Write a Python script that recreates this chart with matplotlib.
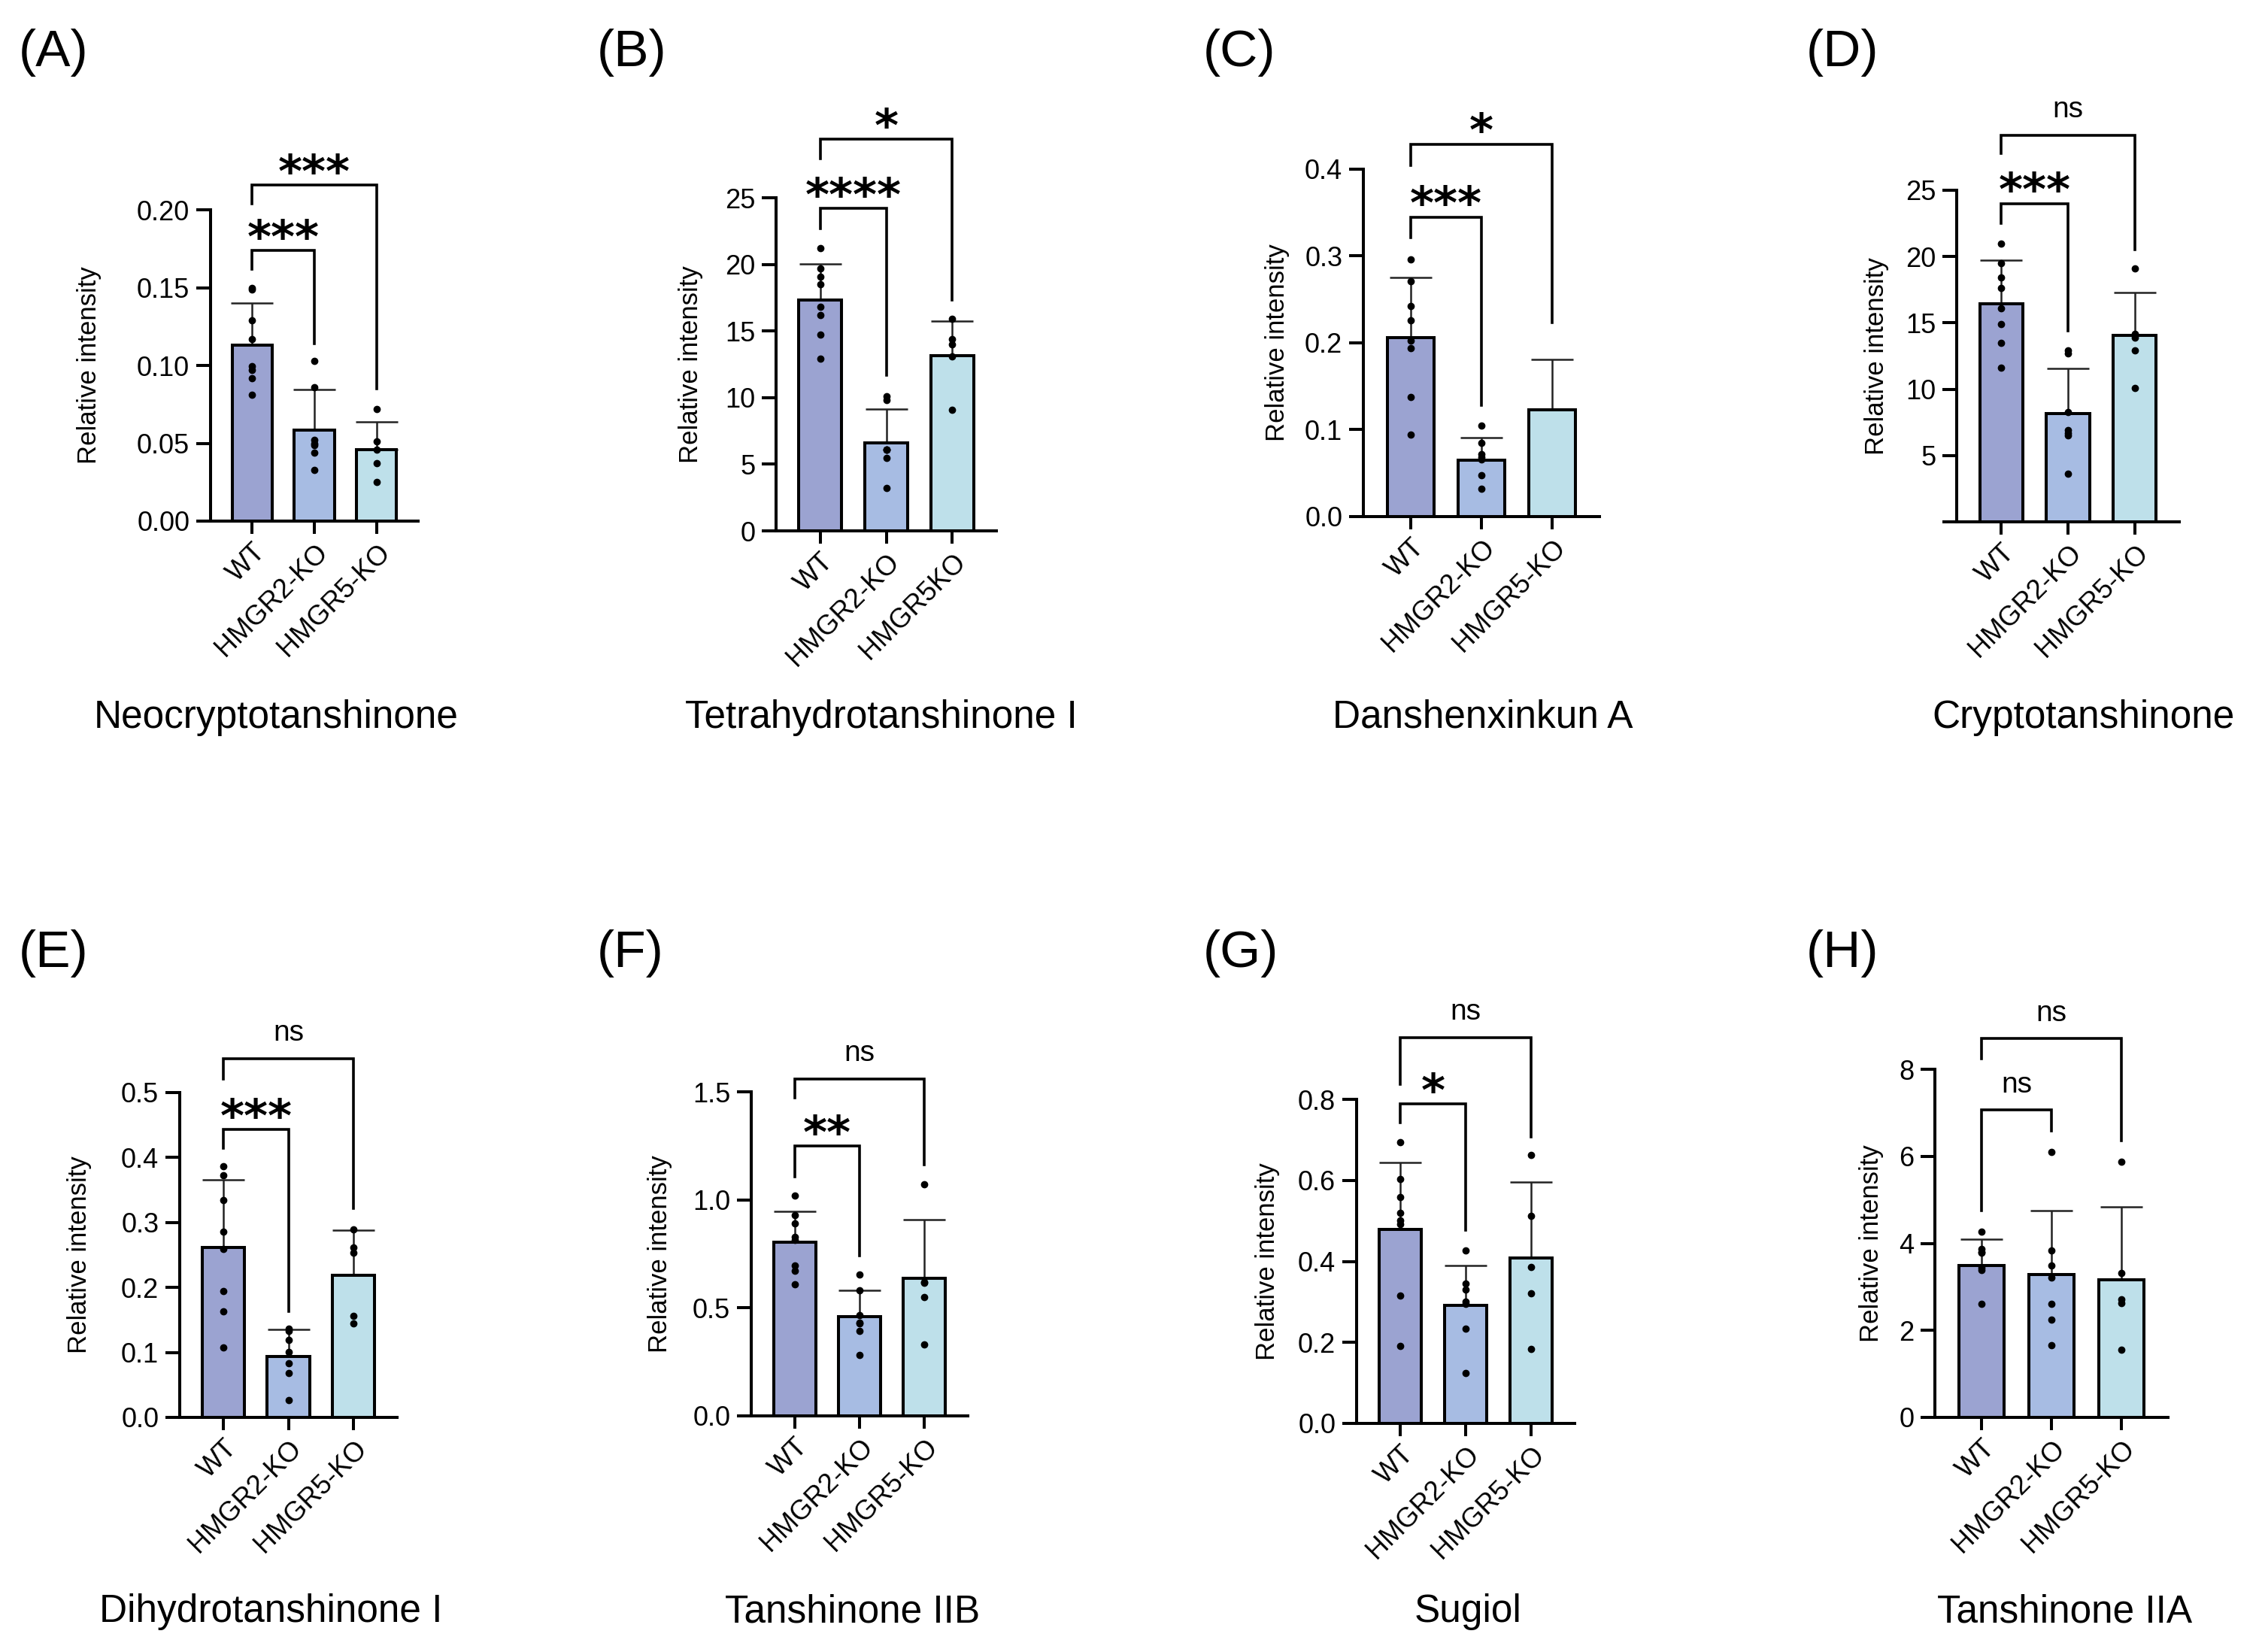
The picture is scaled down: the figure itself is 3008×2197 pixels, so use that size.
import numpy as np
import matplotlib.pyplot as plt

plt.rcParams['font.family'] = ['Liberation Sans', 'DejaVu Sans']

# gruppi sperimentali
groups = ["WT", "HMGR2-KO", "HMGR5-KO"]
groups_b = ["WT", "HMGR2-KO", "HMGR5KO"]
colors = ["#9BA3D1", "#A7BCE3", "#BEE0EA"]

# (A) Neocryptotanshinone
neo_mean = [0.113, 0.0585, 0.046]
neo_sd = [0.027, 0.026, 0.018]
neo_pts = [[0.150, 0.149, 0.129, 0.117, 0.0995, 0.097, 0.092, 0.081],
           [0.103, 0.086, 0.052, 0.050, 0.049, 0.044, 0.033],
           [0.072, 0.051, 0.046, 0.037, 0.025]]
neo_sig = ["***", "***"]

# (B) Tetrahydrotanshinone I
thti_mean = [17.3, 6.6, 13.13]
thti_sd = [2.76, 2.53, 2.63]
thti_pts = [[21.2, 19.7, 19.1, 18.5, 16.8, 16.2, 14.75, 12.95],
            [10.1, 9.8, 6.1, 6.1, 6.1, 5.5, 3.2],
            [15.9, 14.4, 14.0, 13.1, 9.1]]
thti_sig = ["****", "*"]

# (C) Danshenxinkun A
dsk_mean = [0.206, 0.0647, 0.1228]
dsk_sd = [0.069, 0.0266, 0.058]
dsk_pts = [[0.296, 0.271, 0.242, 0.226, 0.203, 0.194, 0.138, 0.094],
           [0.105, 0.085, 0.072, 0.068, 0.066, 0.048, 0.032],
           []]
dsk_sig = ["***", "*"]

# (D) Cryptotanshinone
cry_mean = [16.46, 8.18, 14.04]
cry_sd = [3.26, 3.40, 3.26]
cry_pts = [[21.0, 19.5, 18.4, 17.65, 16.1, 14.9, 13.5, 11.6],
           [12.9, 12.7, 8.25, 6.9, 6.7, 6.5, 3.65],
           [19.1, 14.2, 13.9, 12.95, 10.1]]
cry_sig = ["***", "ns"]

# (E) Dihydrotanshinone I
dht_mean = [0.2614, 0.0935, 0.2187]
dht_sd = [0.104, 0.042, 0.070]
dht_pts = [[0.387, 0.373, 0.335, 0.286, 0.259, 0.195, 0.163, 0.108],
           [0.136, 0.133, 0.119, 0.101, 0.083, 0.068, 0.027],
           [0.289, 0.261, 0.254, 0.156, 0.145]]
dht_sig = ["***", "ns"]

# (F) Tanshinone IIB
t2b_mean = [0.803, 0.46, 0.637]
t2b_sd = [0.144, 0.122, 0.27]
t2b_pts = [[1.018, 0.929, 0.892, 0.83, 0.816, 0.697, 0.670, 0.608],
           [0.653, 0.582, 0.465, 0.431, 0.428, 0.392, 0.281],
           [1.073, 0.62, 0.615, 0.549, 0.332]]
t2b_sig = ["**", "ns"]

# (G) Sugiol
sug_mean = [0.479, 0.291, 0.408]
sug_sd = [0.166, 0.098, 0.188]
sug_pts = [[0.694, 0.604, 0.558, 0.519, 0.501, 0.491, 0.316, 0.192],
           [0.427, 0.346, 0.330, 0.301, 0.295, 0.234, 0.124],
           [0.663, 0.513, 0.386, 0.321, 0.183]]
sug_sig = ["*", "ns"]

# (H) Tanshinone IIA
t2a_mean = [3.49, 3.29, 3.16]
t2a_sd = [0.60, 1.47, 1.67]
t2a_pts = [[4.26, 3.87, 3.80, 3.78, 3.43, 3.38, 2.61],
           [6.1, 3.84, 3.49, 3.21, 2.61, 2.24, 1.66],
           [5.87, 3.31, 2.72, 2.63, 1.56]]
t2a_sig = ["ns", "ns"]

# pannelli: lettera, nome, dati, assi y, tick
panels = [
    ("(A)", "Neocryptotanshinone", neo_mean, neo_sd, neo_pts, neo_sig, groups,
     0.20, np.arange(0, 0.201, 0.05), "{:.2f}", False),
    ("(B)", "Tetrahydrotanshinone I", thti_mean, thti_sd, thti_pts, thti_sig, groups_b,
     25, np.arange(0, 26, 5), "{:.0f}", False),
    ("(C)", "Danshenxinkun A", dsk_mean, dsk_sd, dsk_pts, dsk_sig, groups,
     0.4, np.arange(0, 0.41, 0.1), "{:.1f}", False),
    ("(D)", "Cryptotanshinone", cry_mean, cry_sd, cry_pts, cry_sig, groups,
     25, np.arange(0, 26, 5), "{:.0f}", True),
    ("(E)", "Dihydrotanshinone I", dht_mean, dht_sd, dht_pts, dht_sig, groups,
     0.5, np.arange(0, 0.51, 0.1), "{:.1f}", False),
    ("(F)", "Tanshinone IIB", t2b_mean, t2b_sd, t2b_pts, t2b_sig, groups,
     1.5, np.arange(0, 1.51, 0.5), "{:.1f}", False),
    ("(G)", "Sugiol", sug_mean, sug_sd, sug_pts, sug_sig, groups,
     0.8, np.arange(0, 0.81, 0.2), "{:.1f}", False),
    ("(H)", "Tanshinone IIA", t2a_mean, t2a_sd, t2a_pts, t2a_sig, groups,
     8, np.arange(0, 8.1, 2), "{:.0f}", False),
]

# posizione degli assi in pixel: sinistra, destra, y dello zero, y del massimo
rects = [(280, 556, 693, 279), (1032, 1325, 706, 263), (1813, 2127, 687, 225), (2602, 2898, 694, 253),
         (239, 528, 1885, 1453), (999, 1287, 1883, 1452), (1804, 2094, 1893, 1462), (2573, 2883, 1885, 1422)]
ylabel_x = [135, 935, 1715, 2512, 122, 894, 1702, 2505]
letter_pos = [(25, 70), (794, 70), (1600, 70), (2402, 70),
              (25, 1268), (794, 1268), (1600, 1268), (2402, 1268)]
title_pos = [(367, 968), (1172, 968), (1972, 968), (2770, 968),
             (360, 2157), (1134, 2157), (1952, 2157), (2746, 2157)]
# parentesi: (altezza, gamba sinistra, gamba destra) per WT-HMGR2 e WT-HMGR5
brackets = [
    [(0.174, 0.162, 0.114), (0.216, 0.204, 0.085)],
    [(24.2, 22.7, 11.7), (29.4, 27.96, 17.3)],
    [(0.345, 0.321, 0.128), (0.429, 0.404, 0.223)],
    [(24.0, 22.5, 14.4), (29.16, 27.8, 20.5)],
    [(0.443, 0.414, 0.163), (0.552, 0.521, 0.322)],
    [(1.248, 1.106, 0.741), (1.56, 1.471, 1.161)],
    [(0.789, 0.743, 0.477), (0.953, 0.838, 0.708)],
    [(7.06, 4.75, 6.59), (8.70, 8.24, 6.35)],
]

W, H = 3008, 2197
fig = plt.figure(figsize=(W / 100, H / 100), dpi=100)
fig.patch.set_facecolor('white')

LW = 2.9
for k, (letter, name, mean, sd, pts, sig, labels, ytop, yt, fmt, skip0) in enumerate(panels):
    L, R, y0, yt_px = rects[k]
    ax = fig.add_axes([L / W, 1 - y0 / H, (R - L) / W, (y0 - yt_px) / H])
    x = np.arange(3)

    ax.errorbar(x, mean, yerr=[np.zeros(3), sd], fmt='none', ecolor='#222222',
                elinewidth=1.8, capsize=20, capthick=1.8, zorder=2, clip_on=False)
    ax.bar(x, mean, width=0.65, color=colors, edgecolor='black', linewidth=LW, zorder=3)
    for i in range(3):
        if len(pts[i]):
            ax.plot(np.full(len(pts[i]), x[i]), pts[i], 'o', color='black', ms=6,
                    zorder=5, clip_on=False)

    ax.set_xlim(-0.67, 2.67)
    ax.set_ylim(0, ytop)
    ax.set_yticks(yt)
    ticklab = [fmt.format(v) for v in yt]
    if skip0:
        ticklab[0] = ""
    ax.set_yticklabels(ticklab)
    ax.set_xticks(x)
    ax.set_xticklabels(labels, rotation=45, ha='right', va='top', rotation_mode='anchor')

    for s in ['top', 'right']:
        ax.spines[s].set_visible(False)
    for s in ['left', 'bottom']:
        ax.spines[s].set_linewidth(LW)
    ax.tick_params(axis='y', length=14, width=LW, labelsize=26, pad=6)
    ax.tick_params(axis='x', length=12, width=LW, labelsize=26, pad=5)

    ax.set_ylabel("Relative intensity", fontsize=25)
    ax.yaxis.set_label_coords((ylabel_x[k] - L) / (R - L), 0.5)

    # parentesi di significatività
    for j, (by, bl, br) in zip([1, 2], brackets[k]):
        ax.plot([0, 0, j, j], [bl, by, by, br], color='black', lw=2.6,
                clip_on=False, solid_joinstyle='miter', zorder=6)
        txt = sig[j - 1]
        if txt == "ns":
            ax.annotate(txt, xy=(j / 2, by), xytext=(0, 17), textcoords='offset points',
                        ha='center', va='baseline', fontsize=28, annotation_clip=False)
        else:
            ax.annotate(txt, xy=(j / 2, by), xytext=(0, -2), textcoords='offset points',
                        ha='center', va='baseline', fontsize=44, fontweight='bold',
                        family='DejaVu Sans', annotation_clip=False)

    lx, ly = letter_pos[k]
    fig.text(lx / W, 1 - ly / H, letter, fontsize=50, ha='left', va='center')
    tx, ty = title_pos[k]
    fig.text(tx / W, 1 - ty / H, name, fontsize=37, ha='center', va='baseline')

fig.savefig("out.png", dpi=100, facecolor='white')
